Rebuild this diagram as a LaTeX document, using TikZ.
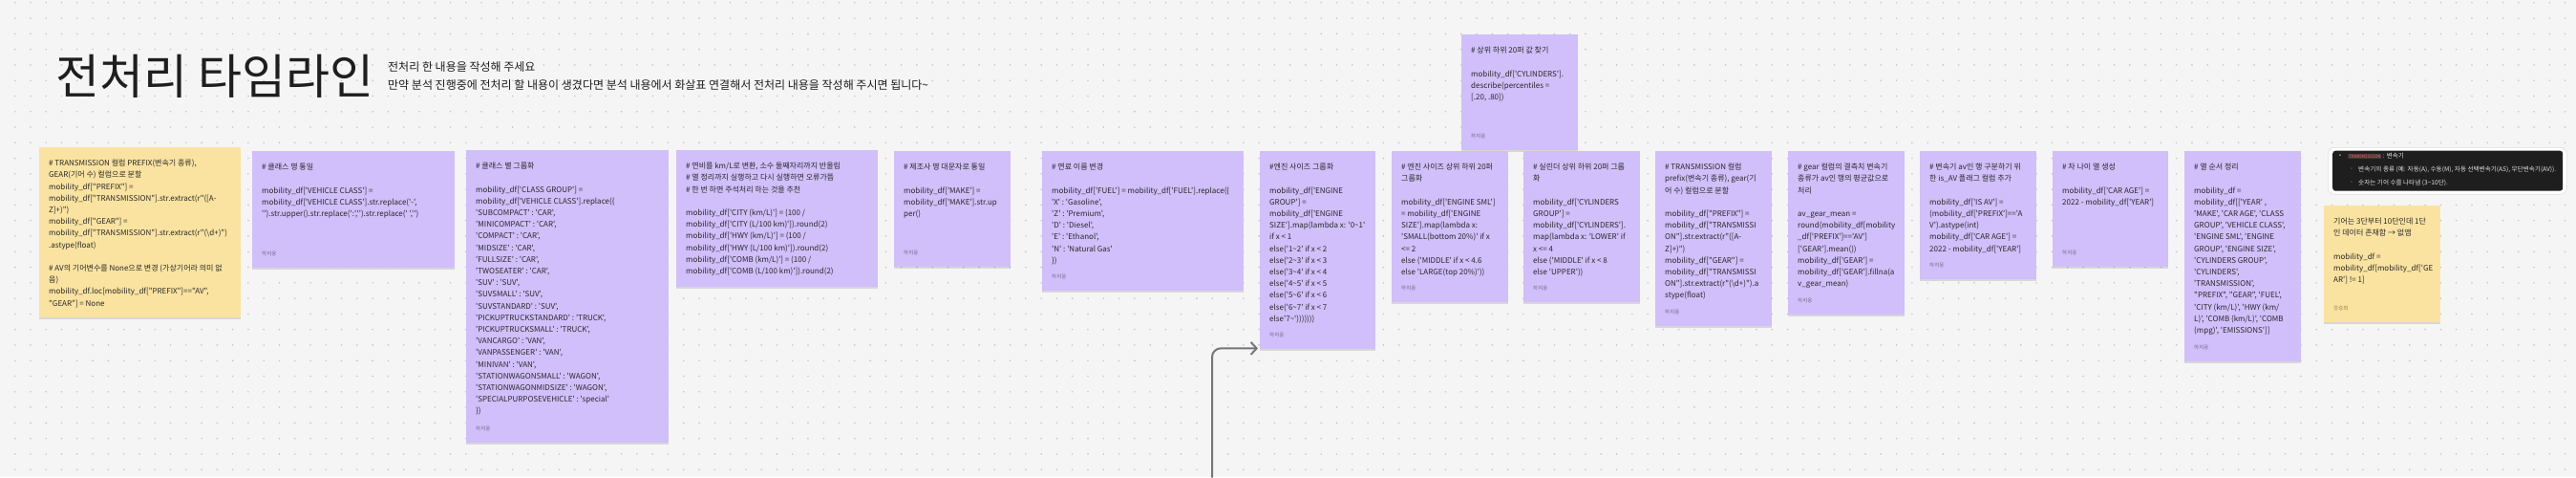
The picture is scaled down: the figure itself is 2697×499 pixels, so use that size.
\documentclass[tikz,border=0pt]{standalone}
\usepackage{fontspec}
\usetikzlibrary{arrows.meta,shadows}
\newfontfamily\kr{Noto Sans CJK KR}
\newfontfamily\dv{DejaVu Sans}
\newfontfamily\mono{DejaVu Sans Mono}
\definecolor{bgc}{RGB}{245,245,245}
\definecolor{dotc}{RGB}{198,198,198}
\definecolor{lav}{RGB}{208,191,250}
\definecolor{sun}{RGB}{250,227,160}
\definecolor{ntxt}{RGB}{40,40,40}
\definecolor{titlec}{RGB}{30,30,30}
\definecolor{darkbg}{RGB}{30,30,30}
\definecolor{chipbg}{RGB}{58,58,58}
\definecolor{chipred}{RGB}{235,90,80}
\definecolor{arrc}{RGB}{118,118,118}
\definecolor{lightt}{RGB}{225,225,225}
\definecolor{boxedge}{RGB}{222,222,222}
\newcommand\Tl{\textasciitilde{}}
\newcommand\Bs{\textbackslash{}}
\tikzset{
  notebox/.style={anchor=north west, inner sep=0pt, draw=none,
    drop shadow={shadow xshift=0pt, shadow yshift=-1.5pt, opacity=0.12, fill=black}},
  notetext/.style={anchor=north west, inner sep=0pt, align=left, text=ntxt,
    font=\kr\fontsize{8}{12.2}\selectfont},
  notesign/.style={anchor=west, inner sep=0pt, text=black, text opacity=0.45,
    font=\kr\fontsize{5.5}{6}\selectfont},
  heading/.style={anchor=base west, inner sep=0pt, text=titlec},
  flowarrow/.style={draw=arrc, line width=2pt, rounded corners=9pt, line cap=round,
    -{Straight Barb[length=6pt,width=13pt,line width=2pt]}},
  darktxt/.style={anchor=west, inner sep=0pt, text=lightt,
    font=\kr\fontsize{6.6}{7}\selectfont},
  dotcol/.style={draw=dotc, line width=1.8pt, line cap=round, dash pattern=on 0pt off 16.28pt},
}
\newcommand\stickynote[7]{%
  \node[notebox, fill=#6, minimum width=#4pt, minimum height=#5pt] (#1) at (#2,#3) {};
  \node[notetext] (#1t) at ([xshift=10pt,yshift=-10.5pt]#1.north west) {\rule{0pt}{9pt}#7};}
\newcommand\signnote[2]{%
  \node[notesign] (#1a) at ([xshift=10pt,yshift=14.5pt]#1.south west) {#2};}
\begin{document}
\begin{tikzpicture}[x=1pt,y=-1pt]
\fill[bgc] (0,0) rectangle (2697,499);
\useasboundingbox (0,0) rectangle (2697,499);
\foreach \i in {0,...,165}{\draw[dotcol] (15.7+\i*16.28,2.8) -- (15.7+\i*16.28,499);}

% title
\node[heading, font=\kr\fontsize{50}{60}\selectfont] (title) at (58.5,98.5) {전처리 타임라인};
\node[heading, font=\kr\fontsize{12}{14}\selectfont] (sub1) at (406,74.5) {전처리 한 내용을 작성해 주세요};
\node[heading, font=\kr\fontsize{12}{14}\selectfont] (sub2) at (406,93.5) {만약 분석 진행중에 전처리 할 내용이 생겼다면 분석 내용에서 화살표 연결해서 전처리 내용을 작성해 주시면 됩니다\Tl};

% notes
\stickynote{n1}{41}{154}{211}{178}{sun}{\# TRANSMISSION 컬럼 PREFIX(변속기 종류),\\
GEAR(기어 수) 컬럼으로 분할\\
mobility\_df["PREFIX"] =\\
mobility\_df["TRANSMISSION"].str.extract(r"([A-\\
Z]+)")\\
mobility\_df["GEAR"] =\\
mobility\_df["TRANSMISSION"].str.extract(r"(\Bs d+)")\\
.astype(float)\\[12.2pt]
\# AV의 기어변수를 None으로 변경 (가상기어라 의미 없\\
음)\\
mobility\_df.loc[mobility\_df["PREFIX"]=="AV",\\
"GEAR"] = None}

\stickynote{n2}{264}{158}{212}{122}{lav}{\# 클래스 명 통일\\[12.2pt]
mobility\_df['VEHICLE CLASS'] =\\
mobility\_df['VEHICLE CLASS'].str.replace('-',\\
'').str.upper().str.replace(':','').str.replace(' ','')}
\signnote{n2}{하지웅}

\stickynote{n3}{488}{157}{212}{306}{lav}{\# 클래스 별 그룹화\\[12.2pt]
mobility\_df['CLASS GROUP'] =\\
mobility\_df['VEHICLE CLASS'].replace(\{\\
'SUBCOMPACT' : 'CAR',\\
'MINICOMPACT' : 'CAR',\\
'COMPACT' : 'CAR',\\
'MIDSIZE' : 'CAR',\\
'FULLSIZE' : 'CAR',\\
'TWOSEATER' : 'CAR',\\
'SUV' : 'SUV',\\
'SUVSMALL' : 'SUV',\\
'SUVSTANDARD' : 'SUV',\\
'PICKUPTRUCKSTANDARD' : 'TRUCK',\\
'PICKUPTRUCKSMALL' : 'TRUCK',\\
'VANCARGO' : 'VAN',\\
'VANPASSENGER' : 'VAN',\\
'MINIVAN' : 'VAN',\\
'STATIONWAGONSMALL' : 'WAGON',\\
'STATIONWAGONMIDSIZE' : 'WAGON',\\
'SPECIALPURPOSEVEHICLE' : 'special'\\
\})}
\signnote{n3}{하지웅}

\stickynote{n4}{708}{157}{211}{143}{lav}{\# 연비를 km/L로 변환, 소수 둘째자리까지 반올림\\
\# 열 정리까지 실행하고 다시 실행하면 오류가뜸\\
\# 한 번 하면 주석처리 하는 것을 추천\\[12.2pt]
mobility\_df['CITY (km/L)'] = (100 /\\
mobility\_df['CITY (L/100 km)']).round(2)\\
mobility\_df['HWY (km/L)'] = (100 /\\
mobility\_df['HWY (L/100 km)']).round(2)\\
mobility\_df['COMB (km/L)'] = (100 /\\
mobility\_df['COMB (L/100 km)']).round(2)}

\stickynote{n5}{936}{158}{122}{121}{lav}{\# 제조사 명 대문자로 통일\\[12.2pt]
mobility\_df['MAKE'] =\\
mobility\_df['MAKE'].str.up\\
per()}
\signnote{n5}{하지웅}

\stickynote{n6}{1091}{158}{211}{146}{lav}{\# 연료 이름 변경\\[12.2pt]
mobility\_df['FUEL'] = mobility\_df['FUEL'].replace(\{\\
'X' : 'Gasoline',\\
'Z' : 'Premium',\\
'D' : 'Diesel',\\
'E' : 'Ethanol',\\
'N' : 'Natural Gas'\\
\})}
\signnote{n6}{하지웅}

\stickynote{n7}{1319}{158}{121}{207}{lav}{\#엔진 사이즈 그룹화\\[12.2pt]
mobility\_df['ENGINE\\
GROUP'] =\\
mobility\_df['ENGINE\\
SIZE'].map(lambda x: '0\Tl 1'\\
if x < 1\\
else('1\Tl 2' if x < 2\\
else('2\Tl 3' if x < 3\\
else('3\Tl 4' if x < 4\\
else('4\Tl 5' if x < 5\\
else('5\Tl 6' if x < 6\\
else('6\Tl 7' if x < 7\\
else'7\Tl')))))))}
\signnote{n7}{하지웅}

\stickynote{ntop}{1530}{36}{122}{121}{lav}{\# 상위 하위 20퍼 값 찾기\\[12.2pt]
mobility\_df['CYLINDERS'].\\
describe(percentiles =\\
{}[.20, .80])}
\signnote{ntop}{하지웅}

\stickynote{n8}{1457}{158}{122}{158}{lav}{\# 엔진 사이즈 상위 하위 20퍼\\
그룹화\\[12.2pt]
mobility\_df['ENGINE SML']\\
= mobility\_df['ENGINE\\
SIZE'].map(lambda x:\\
'SMALL(bottom 20\%)' if x\\
<= 2\\
else ('MIDDLE' if x < 4.6\\
else 'LARGE(top 20\%)'))}
\signnote{n8}{하지웅}

\stickynote{n9}{1595}{158}{122}{158}{lav}{\# 실린더 상위 하위 20퍼 그룹\\
화\\[12.2pt]
mobility\_df['CYLINDERS\\
GROUP'] =\\
mobility\_df['CYLINDERS'].\\
map(lambda x: 'LOWER' if\\
x <= 4\\
else ('MIDDLE' if x < 8\\
else 'UPPER'))}
\signnote{n9}{하지웅}

\stickynote{n10}{1733}{158}{122}{183}{lav}{\# TRANSMISSION 컬럼\\
prefix(변속기 종류), gear(기\\
어 수) 컬럼으로 분할\\[12.2pt]
mobility\_df["PREFIX"] =\\
mobility\_df["TRANSMISSI\\
ON"].str.extract(r"([A-\\
Z]+)")\\
mobility\_df["GEAR"] =\\
mobility\_df["TRANSMISSI\\
ON"].str.extract(r"(\Bs d+)").a\\
stype(float)}
\signnote{n10}{하지웅}

\stickynote{n11}{1872}{158}{122}{171}{lav}{\# gear 컬럼의 결측치 변속기\\
종류가 av인 행의 평균값으로\\
처리\\[12.2pt]
av\_gear\_mean =\\
round(mobility\_df[mobility\\
\_df['PREFIX']=='AV']\\
{}['GEAR'].mean())\\
mobility\_df['GEAR'] =\\
mobility\_df['GEAR'].fillna(a\\
v\_gear\_mean)}
\signnote{n11}{하지웅}

\stickynote{n12}{2010}{158}{122}{134}{lav}{\# 변속기 av인 행 구분하기 위\\
한 is\_AV 플래그 컬럼 추가\\[12.2pt]
mobility\_df['IS AV'] =\\
(mobility\_df['PREFIX']=='A\\
V').astype(int)\\
mobility\_df['CAR AGE'] =\\
2022 - mobility\_df['YEAR']}
\signnote{n12}{하지웅}

\stickynote{n13}{2149}{158}{121}{121}{lav}{\# 차 나이 열 생성\\[12.2pt]
mobility\_df['CAR AGE'] =\\
2022 - mobility\_df['YEAR']}
\signnote{n13}{하지웅}

\stickynote{n14}{2287}{158}{122}{220}{lav}{\# 열 순서 정리\\[12.2pt]
mobility\_df =\\
mobility\_df[['YEAR' ,\\
'MAKE', 'CAR AGE', 'CLASS\\
GROUP', 'VEHICLE CLASS',\\
'ENGINE SML', 'ENGINE\\
GROUP', 'ENGINE SIZE',\\
'CYLINDERS GROUP',\\
'CYLINDERS',\\
'TRANSMISSION',\\
"PREFIX", "GEAR", 'FUEL',\\
'CITY (km/L)', 'HWY (km/\\
L)', 'COMB (km/L)', 'COMB\\
(mpg)', 'EMISSIONS']]}
\signnote{n14}{하지웅}

\stickynote{ny2}{2433}{215}{122}{122}{sun}{기어는 3단부터 10단인데 1단\\
인 데이터 존재함 → 없앰\\[12.2pt]
mobility\_df =\\
mobility\_df[mobility\_df['GE\\
AR'] != 1]}
\signnote{ny2}{강승희}

% dark info box
\node[anchor=north west, inner sep=0pt, minimum width=250pt, minimum height=49pt,
  fill=white, draw=boxedge, line width=0.6pt, rounded corners=7pt] (dbo) at (2437,154) {};
\node[anchor=north west, inner sep=0pt, minimum width=241pt, minimum height=42pt,
  fill=darkbg, rounded corners=3pt] (dbi) at (2442,157.5) {};
\node[darktxt, anchor=center, font=\dv\fontsize{5}{6}\selectfont] (b1) at (2450,163.5) {•};
\node[anchor=west, inner sep=1pt, fill=chipbg, rounded corners=1pt, text=chipred,
  font=\mono\fontsize{4.6}{5}\selectfont] (chip) at (2458,163.5) {TRANSMISSION};
\node[darktxt] (l1) at (chip.east) {\,: 변속기};
\node[darktxt, anchor=center, font=\dv\fontsize{5}{6}\selectfont] (b2) at (2462,177) {◦};
\node[darktxt] (l2) at (2469,177) {변속기의 종류 (예: 자동(A), 수동(M), 자동 선택변속기(AS), 무단변속기(AV)).};
\node[darktxt, anchor=center, font=\dv\fontsize{5}{6}\selectfont] (b3) at (2462,191) {◦};
\node[darktxt] (l3) at (2469,191) {숫자는 기어 수를 나타냄 (3\Tl 10단).};

% connector
\coordinate (arrstart) at (1269,499);
\coordinate (arrend) at ([xshift=-2pt,yshift=1pt]n7.south west);
\draw[flowarrow] (arrstart) |- (arrend);
\end{tikzpicture}
\end{document}
